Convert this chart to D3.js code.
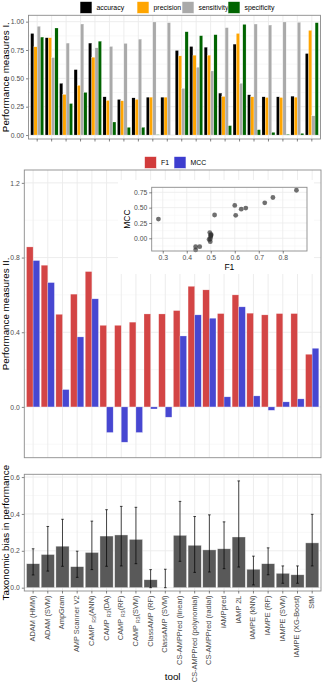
<!DOCTYPE html>
<html><head><meta charset="utf-8">
<script src="https://cdn.jsdelivr.net/npm/d3@7"></script>
<style>body{margin:0;background:#fff;} text{font-family:"Liberation Sans",Arial,Helvetica,sans-serif;}</style>
</head><body><svg id="c" width="322" height="685"></svg>
<script>
const tools = ["ADAM (HMM)","ADAM (SVM)","AmpGram","AMP Scanner V2","CAMP_R3(ANN)","CAMP_R3(DA)","CAMP_R3(RF)","CAMP_R3(SVM)","ClassAMP (RF)","ClassAMP (SVM)","CS-AMPPred (linear)","CS-AMPPred (polynomial)","CS-AMPPred (radial)","iAMPpred","iAMP 2L","IAMPE (kNN)","IAMPE (RF)","IAMPE (SVM)","IAMPE (XG-Boost)","StM"];
const measures1 = ["accuracy","precision","sensitivity","specificity"];
const accuracy    = [0.896,0.858,0.456,0.577,0.811,0.337,0.314,0.328,0.334,0.334,0.746,0.781,0.775,0.370,0.802,0.355,0.337,0.337,0.343,0.719];
const precision   = [0.778,0.858,0.358,0.438,0.686,0.305,0.302,0.314,0.334,0.334,0.698,0.704,0.704,0.340,0.896,0.337,0.331,0.331,0.334,0.923];
const sensitivity = [0.959,0.683,0.811,0.979,0.769,0.781,0.808,0.846,0.997,0.991,0.411,0.598,0.565,0.947,0.456,0.979,0.970,0.997,0.994,0.169];
const specificity = [0.864,0.944,0.278,0.376,0.828,0.115,0.068,0.068,0.003,0.000,0.911,0.876,0.885,0.083,0.976,0.047,0.024,0.006,0.015,0.991];
const measures2 = ["F1","MCC"];
const F1  = [0.857,0.759,0.496,0.604,0.725,0.437,0.437,0.454,0.498,0.498,0.516,0.646,0.627,0.500,0.600,0.502,0.493,0.500,0.500,0.282];
const MCC = [0.784,0.666,0.093,0.375,0.579,-0.137,-0.189,-0.137,-0.011,-0.055,0.380,0.493,0.475,0.054,0.536,0.059,-0.018,0.027,0.043,0.314];
const bias     = [0.130,0.180,0.225,0.114,0.191,0.280,0.286,0.262,0.043,0.000,0.284,0.230,0.205,0.211,0.275,0.100,0.130,0.078,0.070,0.243];
const biasLow  = [0.069,0.090,0.116,0.056,0.098,0.116,0.118,0.130,0.000,0.000,0.143,0.083,0.085,0.103,0.112,0.015,0.070,0.024,0.024,0.118];
const biasHigh = [0.211,0.332,0.371,0.198,0.361,0.423,0.441,0.436,0.098,0.100,0.468,0.386,0.395,0.357,0.579,0.171,0.216,0.118,0.118,0.398];
const ticks1 = [0,0.25,0.5,0.75,1.0], tickLabels1 = ["0.00","0.25","0.50","0.75","1.00"];
const ticks2 = [0,0.4,0.8,1.2], tickLabels2 = ["0.0","0.4","0.8","1.2"];
const ticks3 = [0,0.2,0.4,0.6], tickLabels3 = ["0.0","0.2","0.4","0.6"];
const insetX = [0.3,0.4,0.5,0.6,0.7,0.8];
const insetY = [0,0.25,0.5,0.75], insetYLabels = ["0.00","0.25","0.50","0.75"];

const col1 = {accuracy:"#000000",precision:"#FFA500",sensitivity:"#AAAAAA",specificity:"#006400"};
const col2 = {F1:"#D13B3B",MCC:"#3D3DCF"};
const svg = d3.select("#c");
const GRID="#ebebeb", GRIDM="#f4f4f4", BORDER="#8c8c8c", TXT="#4d4d4d";
const FONT='"Liberation Sans",Arial,sans-serif';

function panel(L,R,T,B,ydom,ticks,labels,minor){
  const x = d3.scalePoint().domain(tools).range([L,R]).padding(0.6);
  const y = d3.scaleLinear().domain(ydom).range([B,T]);
  const g = svg.append("g");
  g.append("rect").attr("x",L).attr("y",T).attr("width",R-L).attr("height",B-T).attr("fill","#fff");
  g.selectAll(".mn").data(minor).join("line").attr("x1",L).attr("x2",R).attr("y1",d=>y(d)).attr("y2",d=>y(d)).attr("stroke",GRIDM).attr("stroke-width",0.6);
  g.selectAll(".mj").data(ticks).join("line").attr("x1",L).attr("x2",R).attr("y1",d=>y(d)).attr("y2",d=>y(d)).attr("stroke",GRID).attr("stroke-width",0.9);
  g.selectAll(".vx").data(tools).join("line").attr("x1",d=>x(d)).attr("x2",d=>x(d)).attr("y1",T).attr("y2",B).attr("stroke",GRID).attr("stroke-width",0.9);
  const ax = svg.append("g").attr("transform",`translate(${L},0)`)
    .call(d3.axisLeft(y).tickValues(ticks).tickFormat((d,i)=>labels[i]).tickSize(2.5).tickPadding(2));
  ax.select(".domain").remove();
  ax.selectAll("line").attr("stroke","#333").attr("stroke-width",0.6);
  ax.selectAll("text").attr("fill",TXT).style("font-size","6.8px").style("font-family",FONT);
  return {x,y,g,L,R,T,B};
}
function border(p){svg.append("rect").attr("x",p.L).attr("y",p.T).attr("width",p.R-p.L).attr("height",p.B-p.T).attr("fill","none").attr("stroke",BORDER).attr("stroke-width",0.9);}
function ytitle(txt,cy){svg.append("text").attr("transform",`translate(6.5,${cy}) rotate(-90)`).attr("text-anchor","middle").attr("dominant-baseline","middle").style("font-size","9.8px").attr("fill","#000").text(txt);}

// ---------- Panel 1 ----------
const p1 = panel(28.5,320.5,15.3,139,[-0.035,1.056],ticks1,tickLabels1,[0.125,0.375,0.625,0.875]);
const vals1 = {accuracy,precision,sensitivity,specificity};
const st1 = p1.x.step();
const bw1 = 0.9*st1/4;
measures1.forEach((m,mi)=>{
  p1.g.selectAll(".b"+m).data(tools).join("rect")
    .attr("x",(d)=>p1.x(d)-0.45*st1+mi*bw1).attr("width",bw1)
    .attr("y",(d,i)=>p1.y(Math.max(0,vals1[m][i]))).attr("height",(d,i)=>Math.abs(p1.y(0)-p1.y(vals1[m][i])))
    .attr("fill",col1[m]).attr("stroke","#fff").attr("stroke-width",0.25);
});
border(p1);
svg.selectAll(".t1").data(tools).join("line").attr("x1",d=>p1.x(d)).attr("x2",d=>p1.x(d)).attr("y1",p1.B).attr("y2",p1.B+2.5).attr("stroke","#333").attr("stroke-width",0.6);
ytitle("Performance measures I.",(p1.T+p1.B)/2);
const leg1x = [80,137,182,228];
measures1.forEach((m,i)=>{
  svg.append("rect").attr("x",leg1x[i]).attr("y",1.5).attr("width",12).attr("height",12).attr("fill",col1[m]).attr("stroke","#fff").attr("stroke-width",0.6);
  svg.append("text").attr("x",leg1x[i]+16.5).attr("y",8).attr("dominant-baseline","middle").style("font-size","6.9px").attr("fill","#000").text(m);
});

// ---------- Panel 2 ----------
const p2 = panel(24.3,321,170,457.7,[-0.272,1.269],ticks2,tickLabels2,[-0.2,0.2,0.6,1.0]);
const vals2 = {F1,MCC};
const st2 = p2.x.step();
const bw2 = 0.9*st2/2;
measures2.forEach((m,mi)=>{
  p2.g.selectAll(".b"+m).data(tools).join("rect")
    .attr("x",(d)=>p2.x(d)-0.45*st2+mi*bw2).attr("width",bw2)
    .attr("y",(d,i)=>p2.y(Math.max(0,vals2[m][i]))).attr("height",(d,i)=>Math.abs(p2.y(0)-p2.y(vals2[m][i])))
    .attr("fill",col2[m]).attr("fill-opacity",0.95).attr("stroke","#fff").attr("stroke-opacity",0.5).attr("stroke-width",0.5);
});
border(p2);
ytitle("Performance measures II.",(p2.T+p2.B)/2);
const leg2x = [144.5,174];
measures2.forEach((m,i)=>{
  svg.append("rect").attr("x",leg2x[i]).attr("y",156.5).attr("width",12).attr("height",12).attr("fill",col2[m]).attr("stroke","#fff").attr("stroke-width",0.6);
  svg.append("text").attr("x",leg2x[i]+16.5).attr("y",163).attr("dominant-baseline","middle").style("font-size","6.9px").attr("fill","#000").text(m);
});

// inset scatter
const iL=151.7,iR=307,iT=187.3,iB=251;
const ix = d3.scaleLinear().domain([0.254,0.901]).range([iL,iR]);
const iy = d3.scaleLinear().domain([-0.207,0.832]).range([iB,iT]);
const ig = svg.append("g");
ig.append("rect").attr("x",118).attr("y",180).attr("width",196).attr("height",94).attr("fill","#fff");
ig.selectAll(".imx").data([0.35,0.45,0.55,0.65,0.75,0.85]).join("line").attr("x1",d=>ix(d)).attr("x2",d=>ix(d)).attr("y1",iT).attr("y2",iB).attr("stroke",GRIDM).attr("stroke-width",0.5);
ig.selectAll(".imy").data([-0.125,0.125,0.375,0.625]).join("line").attr("y1",d=>iy(d)).attr("y2",d=>iy(d)).attr("x1",iL).attr("x2",iR).attr("stroke",GRIDM).attr("stroke-width",0.5);
ig.selectAll(".ijx").data(insetX).join("line").attr("x1",d=>ix(d)).attr("x2",d=>ix(d)).attr("y1",iT).attr("y2",iB).attr("stroke",GRID).attr("stroke-width",0.8);
ig.selectAll(".ijy").data(insetY).join("line").attr("y1",d=>iy(d)).attr("y2",d=>iy(d)).attr("x1",iL).attr("x2",iR).attr("stroke",GRID).attr("stroke-width",0.8);
ig.selectAll("circle").data(F1.map((f,i)=>[f,MCC[i]])).join("circle").attr("cx",d=>ix(d[0])).attr("cy",d=>iy(d[1])).attr("r",2.4).attr("fill","#333").attr("fill-opacity",0.7);
ig.append("rect").attr("x",iL).attr("y",iT).attr("width",iR-iL).attr("height",iB-iT).attr("fill","none").attr("stroke",BORDER).attr("stroke-width",0.9);
const iax = svg.append("g").attr("transform",`translate(0,${iB})`).call(d3.axisBottom(ix).tickValues(insetX).tickFormat(d3.format(".1f")).tickSize(2.5).tickPadding(1.5));
iax.select(".domain").remove();
const iay = svg.append("g").attr("transform",`translate(${iL},0)`).call(d3.axisLeft(iy).tickValues(insetY).tickFormat((d,i)=>insetYLabels[i]).tickSize(2.5).tickPadding(2));
iay.select(".domain").remove();
[iax,iay].forEach(a=>{a.selectAll("line").attr("stroke","#333").attr("stroke-width",0.6);a.selectAll("text").attr("fill",TXT).style("font-size","6.8px").style("font-family",FONT);});
svg.append("text").attr("x",(iL+iR)/2).attr("y",268).attr("text-anchor","middle").attr("dominant-baseline","middle").style("font-size","8.5px").text("F1");
svg.append("text").attr("transform",`translate(128,${(iT+iB)/2}) rotate(-90)`).attr("text-anchor","middle").attr("dominant-baseline","middle").style("font-size","8.5px").text("MCC");

// ---------- Panel 3 ----------
const p3 = panel(24.3,321,474.3,591,[-0.018,0.615],ticks3,tickLabels3,[0.1,0.3,0.5]);
const st3 = p3.x.step();
p3.g.selectAll(".b3").data(tools).join("rect")
  .attr("x",d=>p3.x(d)-0.45*st3).attr("width",0.9*st3)
  .attr("y",(d,i)=>p3.y(bias[i])).attr("height",(d,i)=>p3.y(0)-p3.y(bias[i]))
  .attr("fill","#595959").attr("stroke","#fff").attr("stroke-opacity",0.6).attr("stroke-width",0.6);
const eg = p3.g.selectAll(".eb").data(tools).join("g");
eg.append("line").attr("x1",d=>p3.x(d)).attr("x2",d=>p3.x(d)).attr("y1",(d,i)=>p3.y(biasLow[i])).attr("y2",(d,i)=>p3.y(biasHigh[i])).attr("stroke","#000").attr("stroke-opacity",0.8).attr("stroke-width",0.9);
eg.append("line").attr("x1",d=>p3.x(d)-1.3).attr("x2",d=>p3.x(d)+1.3).attr("y1",(d,i)=>p3.y(biasLow[i])).attr("y2",(d,i)=>p3.y(biasLow[i])).attr("stroke","#000").attr("stroke-opacity",0.8).attr("stroke-width",0.9);
eg.append("line").attr("x1",d=>p3.x(d)-1.3).attr("x2",d=>p3.x(d)+1.3).attr("y1",(d,i)=>p3.y(biasHigh[i])).attr("y2",(d,i)=>p3.y(biasHigh[i])).attr("stroke","#000").attr("stroke-opacity",0.8).attr("stroke-width",0.9);
border(p3);
svg.selectAll(".t3").data(tools).join("line").attr("x1",d=>p3.x(d)).attr("x2",d=>p3.x(d)).attr("y1",p3.B).attr("y2",p3.B+2.5).attr("stroke","#333").attr("stroke-width",0.6);
ytitle("Taxonomic bias in performance",(p3.T+p3.B)/2);
tools.forEach(t=>{
  const tx = svg.append("text").attr("transform",`translate(${p3.x(t)},${p3.B+4.5}) rotate(-90)`)
    .attr("text-anchor","end").attr("dominant-baseline","middle").style("font-size","7.4px").attr("fill",TXT);
  const m = t.match(/^(.*)_(R3)(.*)$/);
  if(m){
    tx.append("tspan").text(m[1]+" ");
    tx.append("tspan").attr("baseline-shift","sub").style("font-size","5.2px").text(m[2]);
    tx.append("tspan").text(m[3]);
  } else tx.text(t);
});
svg.append("text").attr("x",(p3.L+p3.R)/2).attr("y",677).attr("text-anchor","middle").attr("dominant-baseline","middle").style("font-size","9.8px").text("tool");
</script></body></html>
